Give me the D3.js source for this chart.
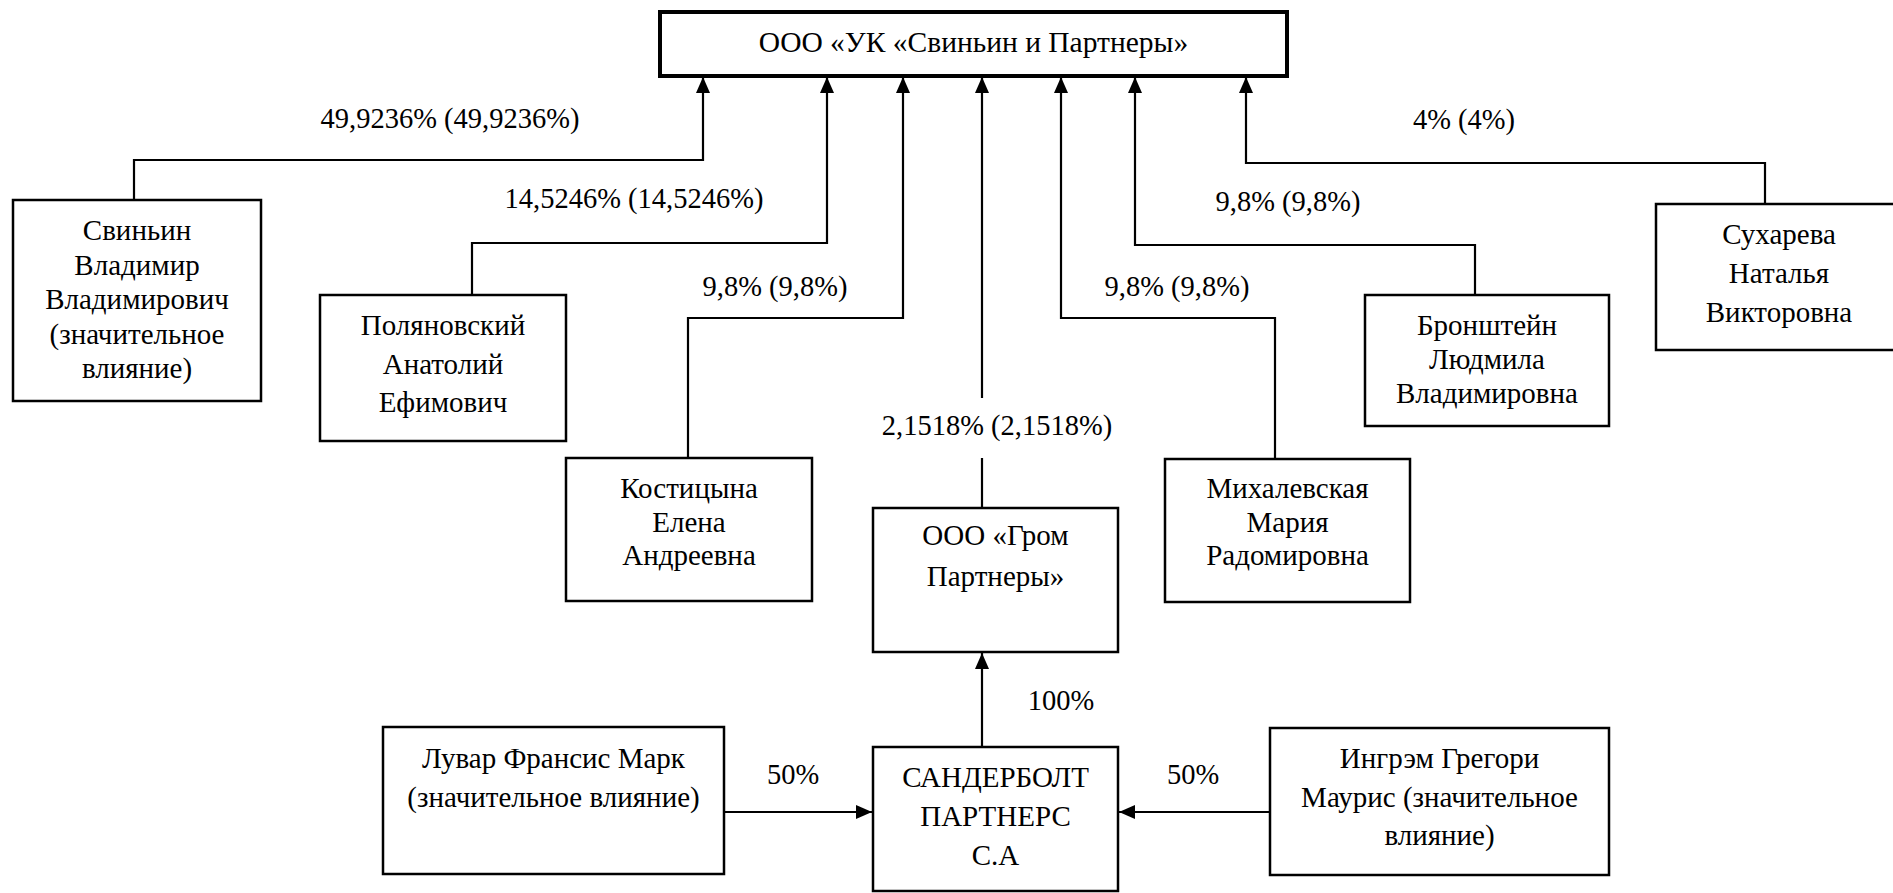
<!DOCTYPE html>
<meta charset="utf-8">
<script src="https://d3js.org/d3.v7.min.js"></script>
<style>
  body { margin: 0; background: #fff; }
</style>
<div id="my_dataviz"></div>
<script>

// --- data ---------------------------------------------------------------
var nodeIds = ["uk", "svinyin", "polyan", "kost", "grom", "mikh", "bron", "sukh", "sander", "luvar", "ingr"];

var nodeLabels = [
    ["ООО «УК «Свиньин и Партнеры»"],
    ["Свиньин", "Владимир", "Владимирович", "(значительное", "влияние)"],
    ["Поляновский", "Анатолий", "Ефимович"],
    ["Костицына", "Елена", "Андреевна"],
    ["ООО «Гром", "Партнеры»"],
    ["Михалевская", "Мария", "Радомировна"],
    ["Бронштейн", "Людмила", "Владимировна"],
    ["Сухарева", "Наталья", "Викторовна"],
    ["САНДЕРБОЛТ", "ПАРТНЕРС", "С.А"],
    ["Лувар Франсис Марк", "(значительное влияние)"],
    ["Ингрэм Грегори", "Маурис (значительное", "влияние)"]
];

// links: owner -> owned
var linkFrom = ["svinyin", "polyan", "kost", "grom", "mikh", "bron", "sukh", "sander", "luvar", "ingr"];
var linkTo = ["uk", "uk", "uk", "uk", "uk", "uk", "uk", "grom", "sander", "sander"];
var shareLabels = ["49,9236% (49,9236%)", "14,5246% (14,5246%)", "9,8% (9,8%)", "2,1518% (2,1518%)",
    "9,8% (9,8%)", "9,8% (9,8%)", "4% (4%)", "100%", "50%", "50%"];

// --- layout (pixel positions of the original drawing) --------------------
var boxes = {
    uk:      { x0: 660,  x1: 1287, y0: 12,  y1: 76,  first: 42,  step: 0 },
    svinyin: { x0: 13,   x1: 261,  y0: 200, y1: 401, first: 230, step: 34.5 },
    polyan:  { x0: 320,  x1: 566,  y0: 295, y1: 441, first: 325, step: 38.5 },
    kost:    { x0: 566,  x1: 812,  y0: 458, y1: 601, first: 488, step: 33.5 },
    grom:    { x0: 873,  x1: 1118, y0: 508, y1: 652, first: 535, step: 41 },
    mikh:    { x0: 1165, x1: 1410, y0: 459, y1: 602, first: 488, step: 33.5 },
    bron:    { x0: 1365, x1: 1609, y0: 295, y1: 426, first: 325, step: 34 },
    sukh:    { x0: 1656, x1: 1902, y0: 204, y1: 350, first: 234, step: 39 },
    sander:  { x0: 873,  x1: 1118, y0: 747, y1: 891, first: 777, step: 39 },
    luvar:   { x0: 383,  x1: 724,  y0: 727, y1: 874, first: 758, step: 39 },
    ingr:    { x0: 1270, x1: 1609, y0: 728, y1: 875, first: 758, step: 38.5 }
};

// route of each link: list of points ending at the arrow tip, plus label spot
var routes = [
    { pts: [[134, 200], [134, 160], [703, 160], [703, 77]], lx: 450, ly: 118 },
    { pts: [[472, 295], [472, 243], [827, 243], [827, 77]], lx: 634, ly: 198 },
    { pts: [[688, 458], [688, 318], [903, 318], [903, 77]], lx: 775, ly: 286 },
    { pts: [[982, 508], [982, 77]], lx: 997, ly: 425, gap: [398, 458] },
    { pts: [[1275, 459], [1275, 318], [1061, 318], [1061, 77]], lx: 1177, ly: 286 },
    { pts: [[1475, 295], [1475, 245], [1135, 245], [1135, 77]], lx: 1288, ly: 201 },
    { pts: [[1765, 204], [1765, 163], [1246, 163], [1246, 77]], lx: 1464, ly: 119 },
    { pts: [[982, 747], [982, 653]], lx: 1061, ly: 700 },
    { pts: [[724, 812], [872, 812]], lx: 793, ly: 774 },
    { pts: [[1270, 812], [1119, 812]], lx: 1193, ly: 774 }
];

var boxFont = 29, topFont = 29.5, labelFont = 28.5;
var serif = "Liberation Serif";
var ink = "#000";

// --- drawing ------------------------------------------------------------
var width = 1893, height = 893;

var x = d3.scaleLinear().domain([0, 1893]).range([0, width]);
var y = d3.scaleLinear().domain([0, 893]).range([0, height]);

var svg = d3.select("#my_dataviz")
    .append("svg")
    .attr("width", width)
    .attr("height", height);

svg.append("defs").append("marker")
    .attr("id", "arrow")
    .attr("markerUnits", "userSpaceOnUse")
    .attr("viewBox", "0 -7 16 14")
    .attr("refX", 16)
    .attr("refY", 0)
    .attr("markerWidth", 16)
    .attr("markerHeight", 14)
    .attr("orient", "auto")
    .append("path")
    .attr("d", "M0,-7L16,0L0,7Z")
    .attr("fill", ink);

var line = d3.line()
    .x(function (p) { return x(p[0]); })
    .y(function (p) { return y(p[1]); });

// links
routes.forEach(function (r, i) {
    if (r.gap) {
        // vertical link interrupted by its label
        var top = r.pts[1], bot = r.pts[0];
        svg.append("path")
            .attr("d", line([[bot[0], r.gap[0]], top]))
            .attr("fill", "none").attr("stroke", ink).attr("stroke-width", 2.2)
            .attr("marker-end", "url(#arrow)");
        svg.append("path")
            .attr("d", line([bot, [bot[0], r.gap[1]]]))
            .attr("fill", "none").attr("stroke", ink).attr("stroke-width", 2.2);
    } else {
        svg.append("path")
            .attr("d", line(r.pts))
            .attr("fill", "none").attr("stroke", ink).attr("stroke-width", 2.2)
            .attr("marker-end", "url(#arrow)");
    }
    svg.append("text")
        .attr("x", x(r.lx))
        .attr("y", y(r.ly))
        .attr("dy", "0.35em")
        .attr("text-anchor", "middle")
        .attr("font-family", serif)
        .attr("font-size", labelFont)
        .attr("fill", ink)
        .text(shareLabels[i]);
});

// boxes
nodeIds.forEach(function (d, i) {
    var b = boxes[d];
    svg.append("rect")
        .attr("x", x(b.x0))
        .attr("y", y(b.y0))
        .attr("width", x(b.x1) - x(b.x0))
        .attr("height", y(b.y1) - y(b.y0))
        .attr("fill", "#fff")
        .attr("stroke", ink)
        .attr("stroke-width", d === "uk" ? 4 : 2.5);

    var cx = d === "sukh" ? 1779 : (b.x0 + b.x1) / 2;
    nodeLabels[i].forEach(function (t, j) {
        svg.append("text")
            .attr("x", x(cx))
            .attr("y", y(b.first + j * b.step))
            .attr("dy", "0.35em")
            .attr("text-anchor", "middle")
            .attr("font-family", serif)
            .attr("font-size", d === "uk" ? topFont : boxFont)
            .attr("fill", ink)
            .text(t);
    });
});

</script>
